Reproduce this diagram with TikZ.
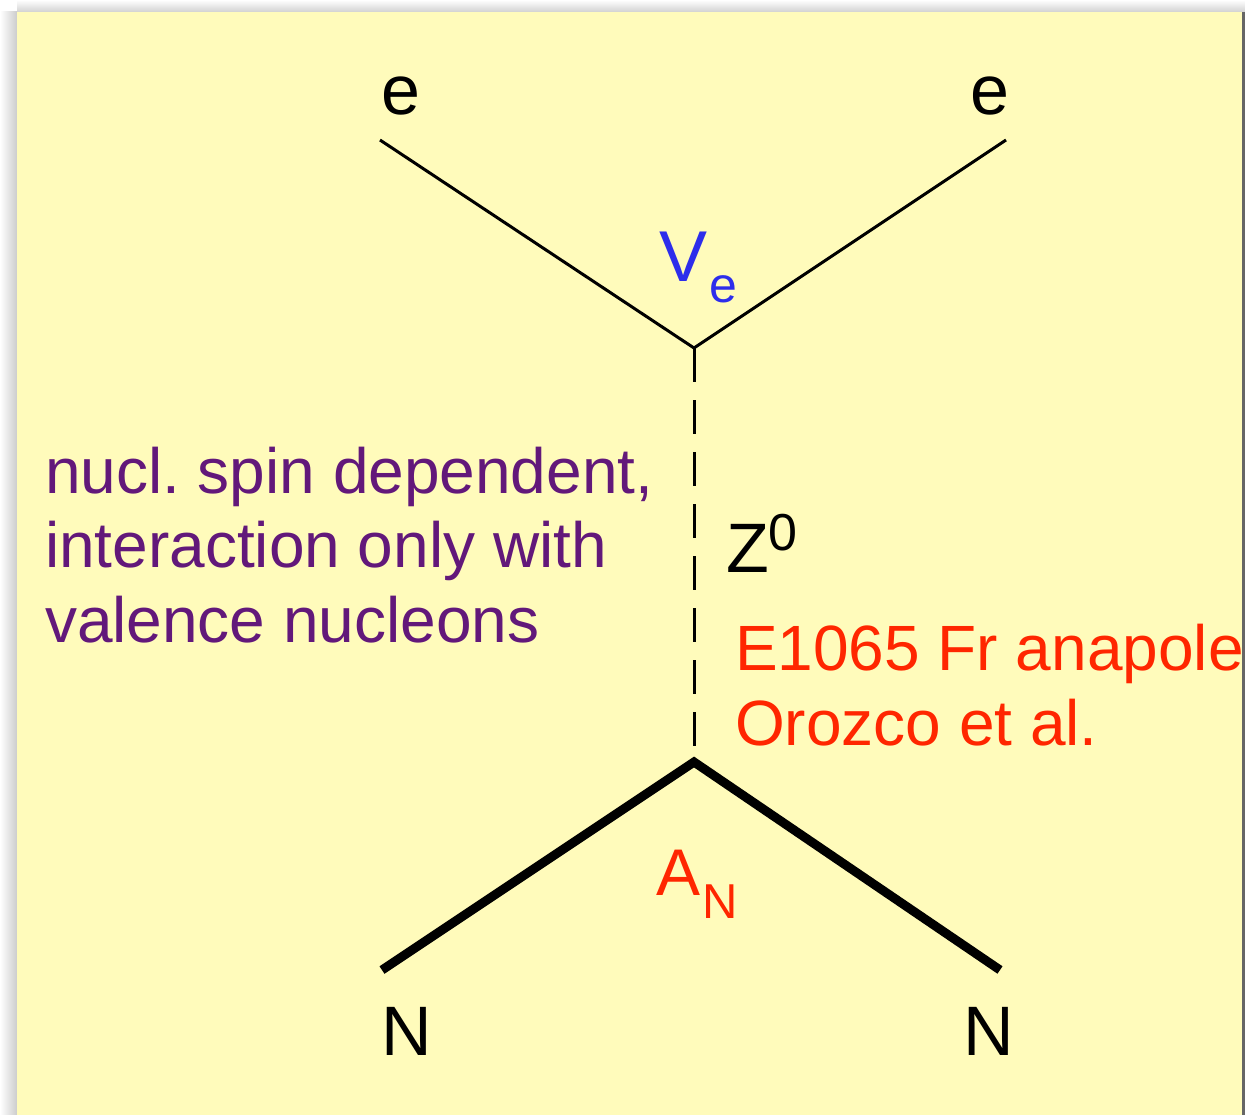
\documentclass[tikz,border=0pt]{standalone}
\usepackage{fontspec}
\setmainfont{Liberation Sans}
\frenchspacing
\definecolor{bgyellow}{RGB}{255,251,187}
\definecolor{lblpurple}{RGB}{98,24,122}
\definecolor{lblred}{RGB}{255,38,0}
\definecolor{lblblue}{RGB}{45,45,235}
\newcommand{\fsz}[1]{\fontsize{#1}{#1}\selectfont}
\begin{document}
\begin{tikzpicture}[x=1pt,y=-1pt,
  lbl/.style={inner sep=0pt, outer sep=0pt},
  thinline/.style={line width=3pt, black},
  thickline/.style={line width=9pt, black, miter limit=20},
  zline/.style={line width=3pt, black, dash pattern=on 34pt off 18pt}]
\useasboundingbox (0,0) rectangle (1245,1115);
% shadows
\shade[top color=white, bottom color=black!18] (17,0) rectangle (1245,12);
\shade[left color=white, right color=black!20] (0,12) rectangle (17,1115);
\fill[black!60] (1242,12) rectangle (1245,1115);
\fill[bgyellow] (17,12) rectangle (1242,1115);
% vertices
\coordinate (v1) at (694,348);
\coordinate (v2) at (694,762);
\coordinate (zend) at (694,746);
\coordinate (e1) at (380,140);
\coordinate (e2) at (1006,140);
\coordinate (n1) at (382,970);
\coordinate (n2) at (1000,970);
\draw[thinline] (e1) -- (v1) -- (e2);
\draw[zline] (v1) -- (zend);
\draw[thickline] (n1) -- (v2) -- (n2);
% labels
\node[lbl, anchor=base] (le1) at (401,115) {\fsz{70}e};
\node[lbl, anchor=base] (le2) at (990,115) {\fsz{70}e};
\node[lbl, anchor=base] (ln1) at (407,1055) {\fsz{70}N};
\node[lbl, anchor=base] (ln2) at (989,1055) {\fsz{70}N};
\node[lbl, anchor=base west, text=lblblue] (lve) at (659,282) {\fsz{72}V\hspace{2pt}\raisebox{-21pt}{\fsz{50}e}};
\node[lbl, anchor=base west] (lz) at (726,572) {\fsz{70}Z\raisebox{22pt}{\fsz{52}0}};
\node[lbl, anchor=base west, text=lblred] (lan) at (656,895) {\fsz{66}A\hspace{2pt}\raisebox{-23pt}{\fsz{49}N}};
\node[lbl, anchor=base west, text=lblred, align=left, font=\fontsize{64}{75}\selectfont] (lexp) at (735,745) {E1065 Fr anapole\\Orozco et al.};
\node[lbl, anchor=base west, text=lblpurple, align=left, font=\fontsize{64}{74.5}\selectfont] (ltxt) at (45,642) {nucl. spin dependent,\\interaction only with\\valence nucleons};
\end{tikzpicture}
\end{document}
